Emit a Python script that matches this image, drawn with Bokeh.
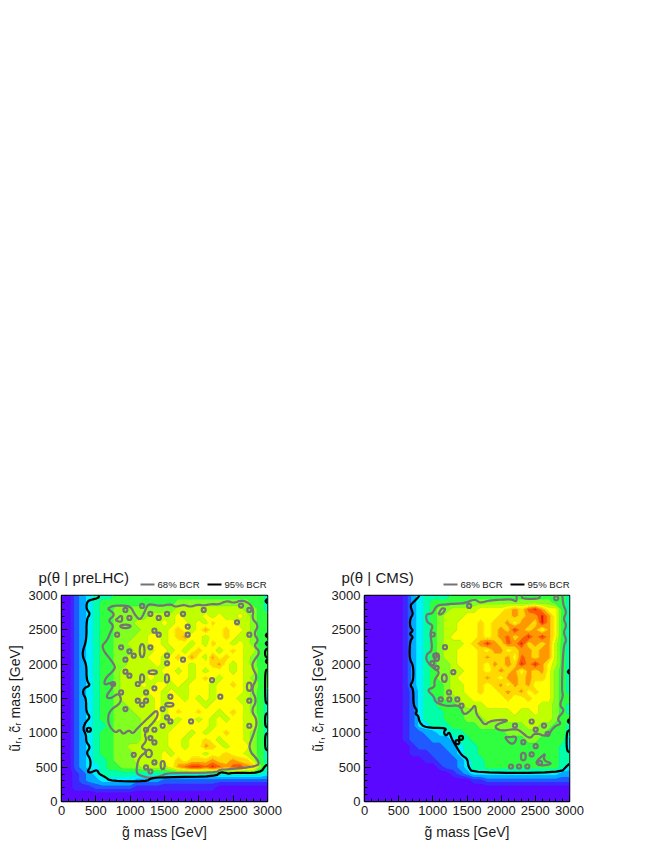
from bokeh.plotting import figure
from bokeh.layouts import column, row
from bokeh.models import Spacer, SingleIntervalTicker
from bokeh.core.properties import value
from bokeh.embed import file_html
from bokeh.resources import INLINE
import numpy as np

AXIS_VALUES = [i * 100 for i in range(31)]
LEVEL_COLOURS = ["#5a08ff", "#3c28ff", "#1e5aff", "#00aaff", "#00f0ff", "#00ffa8",
                 "#30ff40", "#80ff20", "#c0ff00", "#ffff00", "#ffd800", "#ff9800",
                 "#ff5a00", "#e81800"]

# density level per 100 GeV node, first row is squark mass 3000, last row 0
PRE_LHC = [
"0023455566" "6666666666" "6666666666" "5",
"0023456666" "6666666777" "7777777766" "5",
"0023456677" "7777777888" "8888888776" "5",
"0023456677" "8778888988" "8989889876" "6",
"0023456677" "7888898998" "98a9998876" "6",
"0023456677" "7788889a98" "9b99a99876" "6",
"0023456677" "7889989ab9" "9899a98876" "6",
"0023456677" "8889989998" "98a9989876" "5",
"0023456677" "7888998989" "a9989a9886" "6",
"0023456677" "8889989a9b" "98b9a99876" "6",
"0023456677" "8888989998" "99ab989876" "6",
"0023456678" "8889899898" "9899989886" "6",
"0023456678" "8889889998" "9a98999876" "6",
"0023456678" "8898998989" "99899a9886" "6",
"0023456678" "8889989889" "9989999876" "5",
"0023456678" "8898989989" "8989998876" "5",
"0023456677" "8888989999" "9899999876" "5",
"0023456677" "7888989a99" "a9989a9876" "5",
"0023456677" "7788989899" "8989899886" "5",
"0023455677" "7788898999" "9989999886" "5",
"0023456677" "7788889998" "9899a99876" "5",
"0023456677" "7788889989" "9a98999876" "5",
"0023456677" "8888889989" "9ba9899976" "5",
"0023456677" "7888898999" "9899a99876" "5",
"0023455677" "7888899a9a" "aabaabaa86" "5",
"0023445667" "7788889bcd" "dcdcbcdbb7" "5",
"0012345555" "5555555555" "5555555555" "4",
"0012334444" "4333322222" "2222222222" "2",
"0011122222" "2111111111" "1110000000" "0",
"0000000000" "0000000000" "0000000000" "0",
"0000000000" "0000000000" "0000000000" "0",
]
CMS = [
"0000001345" "5556666666" "6666666666" "5",
"0000001345" "6666667777" "7777777766" "5",
"0000001345" "6778888999" "9abacdb996" "5",
"0000001345" "6788899999" "aababbdb96" "5",
"0000001345" "6788999a9a" "ab9bbadb96" "5",
"0000001345" "6788999a9a" "badbab9b96" "5",
"0000001345" "6789999a9a" "bcabdbdb96" "5",
"0000001345" "678889abdb" "acbdabab86" "5",
"0000001345" "6788999a9b" "b9abbabb86" "5",
"0000001345" "6788999aba" "ab9cbabb86" "5",
"0000001345" "6778999a9b" "abadbdb986" "5",
"0000001345" "6778899a9a" "bab9bab976" "5",
"0000001345" "6778999aba" "9bbabaa976" "5",
"0000001345" "6678899a9a" "b9bab99976" "5",
"0000001245" "6678899a99" "abab9a9976" "5",
"0000001245" "5677889999" "9a99a99976" "6",
"0000001245" "5666788899" "9999998876" "5",
"0000001245" "5566677888" "8898898876" "5",
"0000001245" "5566677788" "8888888876" "6",
"0000001244" "5556666777" "7777887766" "5",
"0000001223" "3445566666" "6777777666" "5",
"0000001222" "3334556666" "6666776666" "4",
"0000000122" "2233455666" "6666666665" "4",
"0000000111" "2223455666" "6666666665" "5",
"0000000001" "1222345566" "6666666665" "5",
"0000000000" "0122345566" "6666666665" "4",
"0000000000" "0001234444" "4444444443" "3",
"0000000000" "0000001122" "2222222222" "2",
"0000000000" "0000000000" "0000000000" "0",
"0000000000" "0000000000" "0000000000" "0",
"0000000000" "0000000000" "0000000000" "0",
]

# pre-LHC credible-region outlines, GeV
L95 = [
 [(543,3000),(543,2965),(446,2941),(373,2917),(359,2805),(422,2733),(364,2660),(364,2345),(310,2199),(310,2102),
  (364,1995),(364,1763),(422,1690),(325,1651),(310,1568),(359,1500),(359,1300),(422,1228),(350,1155),(311,1058),
  (359,971),(359,864),(422,791),(359,709),(422,621),(422,500),(374,437),(422,418),(519,466),(543,403),(640,355),
  (713,297),(1247,292),(1295,340),(1514,355),(2241,364),(2314,428),(2387,418),(2435,403),(2484,418),(2896,413),
  (2969,524),(3000,534)],
 [(3000,2950),(2965,2920),(3000,2885)],
 [(3000,2450),(2970,2420),(3000,2390)],
 [(3000,2330),(2970,2300),(3000,2270)],
 [(3000,2230),(2965,2200),(2965,2120),(3000,2090)],
 [(3000,2070),(2970,2040),(3000,2010)],
 [(3000,1925),(2965,1900),(2965,1450),(3000,1420)],
 [(3000,1290),(2965,1260),(2965,1100),(3000,1075)],
 [(3000,1000),(2965,970),(2965,770),(3000,745)],
]
L68 = [
 [(674,2805),(747,2854),(931,2854),(1014,2829),(1062,2731),(1140,2634),(1198,2731),(1246,2853),(1295,2877),(1441,2844),
  (1586,2878),(1659,2830),(1780,2868),(1877,2830),(1975,2868),(2072,2854),(2193,2878),(2290,2868),(2411,2926),(2508,2888),
  (2629,2936),(2750,2878),(2799,2781),(2775,2660),(2872,2563),(2799,2442),(2872,2345),(2799,2272),(2896,2175),(2799,2050),
  (2770,1963),(2857,1808),(2760,1638),(2847,1468),(2760,1322),(2857,1176),(2798,982),(2711,763),(2886,578),(2847,510),
  (2411,466),(2314,466),(2241,418),(1538,418),(1441,364),(1286,340),(1174,369),(1101,400),(1091,471),(1125,641),
  (1256,739),(1149,787),(1246,885),(1198,1006),(1406,1225),(1392,1340),(1295,1249),(1101,1064),(1038,982),(980,1045),
  (897,972),(849,1055),(786,991),(674,1128),(689,1322),(883,1443),(834,1589),(713,1492),(640,1526),(761,1686),
  (737,1740),(616,1690),(640,1801),(762,1908),(786,1981),(567,2247),(664,2345),(713,2466),(762,2563),(674,2636),
  (786,2723),(674,2805)],
 [(786,2639),(883,2726),(883,2605),(786,2639)],
]
L68_X = [931,1174,1295,1416,1537,1770,2071,2614,2735,989,2556,1838,1353,1416,810,1838,2735,868,1295,989,1052,931,1537,1537,
         1770,931,989,2192,1111,752,1353,868,1232,1586,2313,1111,1232,1174,2735,1474,931,1537,1586,1474,1887,2735,1232,1353,
         1295,1353,1052,1353,1232,1295]
L68_Y = [2790,2848,2731,2673,2731,2731,2790,2853,2790,2673,2610,2547,2488,2430,2430,2430,2430,2245,2245,2187,2124,2066,2124,2012,
         2066,1891,1832,1769,1711,1711,1648,1589,1589,1526,1526,1468,1468,1409,1468,1346,1346,1225,1166,1103,1166,1103,1045,1045,
         923,860,680,569,496,437]
L68_EX = [1174,1174,1537,2735,1474,1271,931,1329,1571]
L68_EY = [2197,1793,1793,1672,530,700,2551,1881,1409]
L68_EW = [70,60,60,70,60,90,150,120,120]
L68_EH = [190,120,120,120,120,110,50,55,55]
L95_X = [398]
L95_Y = [1045]

# CMS credible-region outlines, GeV
R95 = [
 [(800,3000),(788,2975),(715,2902),(666,2854),(715,2732),(666,2660),(666,2538),(715,2490),(656,2441),(715,2393),
  (666,2344),(656,2078),(715,1981),(715,1763),(666,1690),(715,1641),(715,1397),(773,1325),(739,1276),(788,1252),
  (803,1155),(886,1073),(1212,1073),(1154,1010),(1193,951),(1242,1019),(1276,912),(1349,791),(1422,670),(1509,621),
  (1519,500),(1592,418),(2871,418),(2958,515),(3000,549)],
 [(3000,1040),(2958,1010),(2958,743),(3000,715)],
 [(3000,1920),(2970,1890),(3000,1860)],
 [(3000,1200),(2970,1170),(3000,1140)],
]
R68 = [
 [(2226,3000),(2226,2902),(2153,2950),(1958,2936),(1812,2926),(1690,2888),(1616,2950),(1470,2888),(1276,2878),(1154,2868),
  (1056,2854),(1017,2781),(983,2732),(900,2732),(910,2611),(1008,2563),(959,2466),(998,2199),(910,2150),(900,2053),
  (1017,1932),(1105,1884),(1017,1763),(1032,1665),(910,1627),(1017,1530),(1035,1443),(1205,1385),(1401,1409),(1449,1249),
  (1560,1330),(1620,1419),(1635,1273),(1690,1204),(1763,1106),(1836,1179),(2153,1194),(1885,1106),(1982,1024),(2202,1058),
  (2275,1034),(2422,903),(2495,1010),(2666,937),(2778,1097),(2885,1131),(2812,1204),(2934,1325),(2851,1397),(2910,1543),
  (2885,1617),(2910,2272),(2958,2344),(2910,2466),(2958,2563),(2910,2660),(2958,2757),(2910,2854),(2895,3000)],
 [(2300,3000),(2310,2950),(2560,2950),(2570,3000)],
 [(1081,2723),(1130,2820),(1193,2805),(1130,2723),(1081,2723)],
 [(2056,937),(2129,937),(2202,951),(2226,912),(2178,830),(2104,864),(2056,937)],
 [(2641,694),(2495,573),(2568,515),(2763,549),(2617,597),(2641,694)],
]
R68_X = [2806,1532,998,1178,993,1056,1300,1237,1115,1242,1359,1420,1035,2446,2627,2202,2505,2680,2324,2505,2446,2143,2261,2383,2568]
R68_Y = [2960,2848,2432,2247,2015,1947,1884,1588,1486,1486,1486,1395,2124,1165,1106,1106,1048,985,864,806,685,510,510,510,563]
R68_EX = [1056,1168,2324]
R68_EY = [2102,1796,655]
R68_EW = [70,70,70]
R68_EH = [110,110,110]
R95_X = [1413,1359]
R95_Y = [927,864]

LEG_68 = "68% BCR"
LEG_95 = "95% BCR"
X_LABEL = "g\u0303 mass [GeV]"
Y_LABEL = "u\u0303\u1d63, c\u0303\u1d63 mass [GeV]"
FONT = "Liberation Sans"
GREY = "#747474"
INK = "#1a1a1a"


def rounded(seg):
    """Round the corners of an outline (corner cutting) so it reads as a contour."""
    pts = [(float(a), float(b)) for a, b in seg]
    for _ in range(2):
        out = [pts[0]]
        for (a0, b0), (a1, b1) in zip(pts[:-1], pts[1:]):
            out.append((0.75 * a0 + 0.25 * a1, 0.75 * b0 + 0.25 * b1))
            out.append((0.25 * a0 + 0.75 * a1, 0.25 * b0 + 0.75 * b1))
        out.append(pts[-1])
        pts = out
    return [a for a, _ in pts], [b for _, b in pts]


def words(s, x, y, txt, size, baseline="alphabetic"):
    s.text([x], [y], text=[txt], text_font=value(FONT), text_font_size=f"{size}px",
           text_color=INK, text_baseline=baseline, text_align="left")


def top_strip(title):
    w, h = 303, 36
    s = figure(width=w, height=h, x_range=(0, w), y_range=(h, 0), x_axis_type=None, y_axis_type=None,
               min_border=0, output_backend="svg", toolbar_location=None)
    s.grid.visible = False
    s.outline_line_color = None
    words(s, 38, 22, title, 15)
    s.line([140, 154], [29, 29], line_color=GREY, line_width=2)
    words(s, 157, 29, LEG_68, 9.6, baseline="middle")
    s.line([207, 221], [29, 29], line_color="black", line_width=2)
    words(s, 224, 29, LEG_95, 9.6, baseline="middle")
    return s


def panel(grid, lines95, lines68, cx68, cy68, ex, ey, ew, eh, cx95, cy95, left, fw, right):
    p = figure(frame_width=fw, frame_height=206, min_border_left=left, min_border_right=right,
               min_border_top=8, min_border_bottom=40, x_range=(0, 3000), y_range=(0, 3000),
               output_backend="svg", toolbar_location=None, background_fill_color="#5a08ff",
               border_fill_alpha=0)
    z = np.array([[int(c, 16) for c in r] for r in grid], dtype=float)[::-1]
    levels = [-1] + [i + 0.5 for i in range(13)] + [14]
    edge_colours = [LEVEL_COLOURS[0]] + LEVEL_COLOURS
    p.contour(AXIS_VALUES, AXIS_VALUES, z, levels=levels, fill_color=LEVEL_COLOURS,
              line_color=edge_colours, line_width=1)
    s68 = [rounded(s) for s in lines68]
    s95 = [rounded(s) for s in lines95]
    p.multi_line([s[0] for s in s68], [s[1] for s in s68], line_color=GREY, line_width=2.2, line_join="round")
    p.scatter(cx68, cy68, size=4, fill_color=None, line_color=GREY, line_width=2.2)
    p.ellipse(ex, ey, width=ew, height=eh, fill_color=None, line_color=GREY, line_width=2.2)
    p.multi_line([s[0] for s in s95], [s[1] for s in s95], line_color="black", line_width=2.2, line_join="round")
    p.scatter(cx95, cy95, size=4, fill_color=None, line_color="black", line_width=2.2)

    p.grid.visible = False
    p.outline_line_color = "black"
    p.outline_line_width = 1.5
    for ax in (p.xaxis[0], p.yaxis[0]):
        ax.ticker = SingleIntervalTicker(interval=500, num_minor_ticks=5)
        ax.major_tick_in = 6
        ax.major_tick_out = 0
        ax.minor_tick_in = 3
        ax.minor_tick_out = 0
        ax.major_tick_line_color = "black"
        ax.minor_tick_line_color = "black"
        ax.axis_line_color = "black"
        ax.major_label_text_font = FONT
        ax.major_label_text_font_size = "13px"
        ax.major_label_text_color = INK
        ax.major_label_standoff = 4
        ax.axis_label_text_font = FONT
        ax.axis_label_text_font_size = "14px"
        ax.axis_label_text_font_style = "normal"
        ax.axis_label_text_color = INK
    p.xaxis[0].axis_label = X_LABEL
    p.xaxis[0].axis_label_standoff = 6
    p.yaxis[0].axis_label = Y_LABEL
    p.yaxis[0].axis_label_standoff = 3
    return p


p1 = panel(PRE_LHC, L95, L68, L68_X, L68_Y, L68_EX, L68_EY, L68_EW, L68_EH, L95_X, L95_Y, 61, 206, 36)
p2 = panel(CMS, R95, R68, R68_X, R68_Y, R68_EX, R68_EY, R68_EW, R68_EH, R95_X, R95_Y, 61, 205, 37)

left_block = column(top_strip("p(\u03b8 | preLHC)"), row(p1, margin=(-4, 0, 0, 0)))
right_block = column(top_strip("p(\u03b8 | CMS)"), row(p2, margin=(-4, 0, 0, 0)))
layout = column(Spacer(height=555, width=10), row(left_block, right_block))
open("out.html", "w").write(file_html(layout, INLINE))
